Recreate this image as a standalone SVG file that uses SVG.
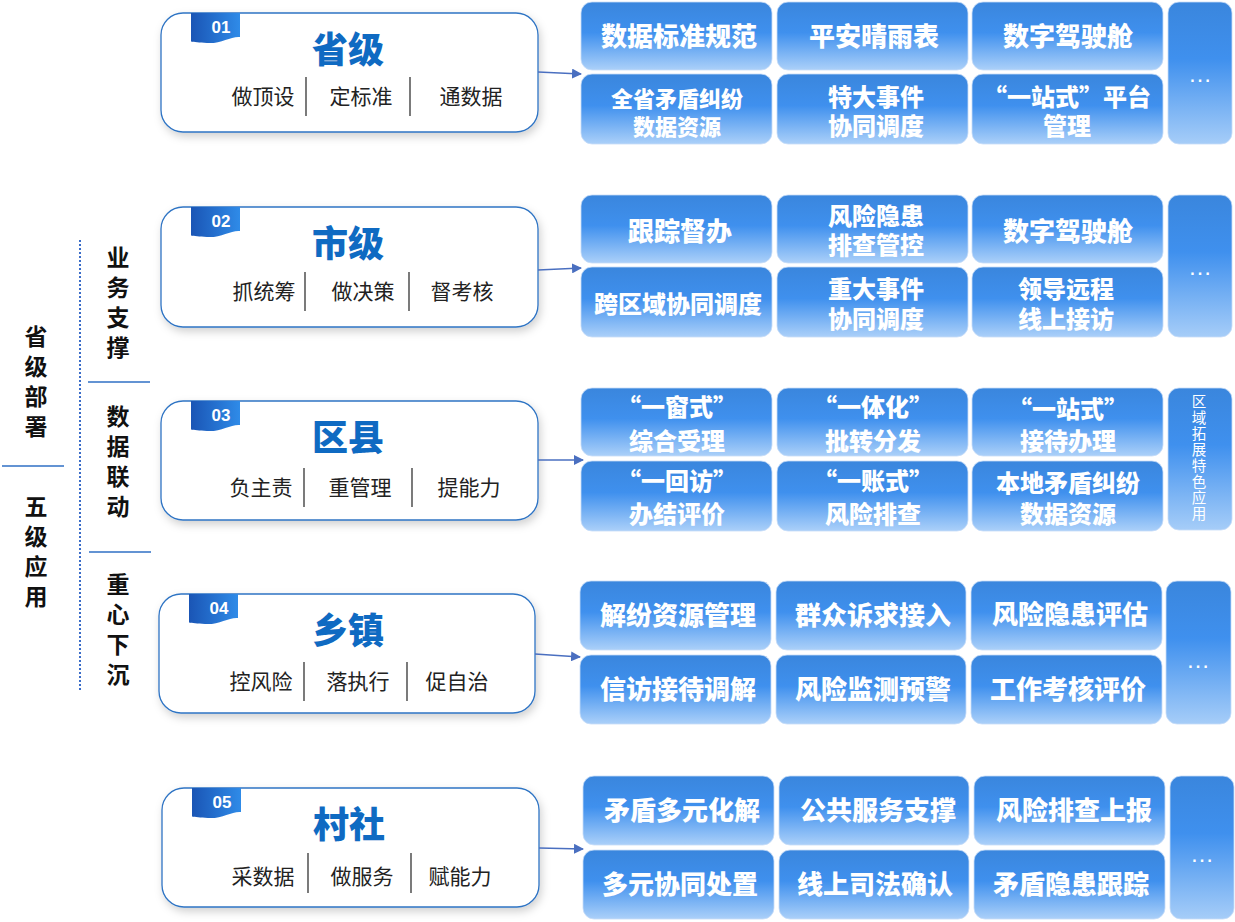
<svg xmlns="http://www.w3.org/2000/svg" width="1235" height="922" viewBox="0 0 1235 922">
<defs>
<style>
.box{fill:#fff;stroke:#2f74c4;stroke-width:1.3;filter:url(#sh)}
.ttl{font-family:"Noto Sans CJK SC","Liberation Sans",sans-serif;font-weight:900;font-size:36px;fill:#0f6ac2;text-anchor:middle}
.sub{font-family:"Noto Sans CJK SC","Liberation Sans",sans-serif;font-size:21px;fill:#222;text-anchor:middle}
.sep{stroke:#333;stroke-width:1.3}
.num{font-family:"Liberation Sans",Arial,sans-serif;font-weight:700;font-size:17px;fill:#fff;text-anchor:middle}
.tile{fill:url(#tg);stroke:#c6dcf7;stroke-width:0.8}
.more{fill:url(#mg);stroke:#c6dcf7;stroke-width:0.8}
.tt{font-family:"Noto Sans CJK SC","Liberation Sans",sans-serif;font-weight:900;font-size:26px;fill:#fff;text-anchor:middle}
.t2{font-family:"Noto Sans CJK SC","Liberation Sans",sans-serif;font-weight:900;font-size:24px;fill:#fff;text-anchor:middle}
.dots{font-family:"Liberation Sans",sans-serif;font-size:24px;fill:#fff;text-anchor:middle}
.vt{font-family:"Noto Sans CJK SC","Liberation Sans",sans-serif;font-size:14.5px;fill:#fff;writing-mode:vertical-rl;letter-spacing:1.5px}
.side{font-family:"Noto Sans CJK SC","Liberation Sans",sans-serif;font-weight:700;font-size:23px;fill:#111;writing-mode:vertical-rl;letter-spacing:7px}
.hl{stroke:#2f6fc4;stroke-width:1.3}
.conn{stroke:#4a6fc0;stroke-width:1.3;fill:none;marker-end:url(#ah)}
</style>
<linearGradient id="tg" x1="0" y1="0" x2="0" y2="1">
<stop offset="0" stop-color="#3a86dd"/>
<stop offset="0.45" stop-color="#3f90ee"/>
<stop offset="1" stop-color="#abd0f9"/>
</linearGradient>
<linearGradient id="mg" x1="0" y1="0" x2="0" y2="1">
<stop offset="0" stop-color="#3a86dd"/>
<stop offset="0.4" stop-color="#3f90ee"/>
<stop offset="1" stop-color="#a6cdf8"/>
</linearGradient>
<linearGradient id="tagg" x1="0" y1="0" x2="1" y2="0">
<stop offset="0" stop-color="#1a55b5"/>
<stop offset="1" stop-color="#2f8be8"/>
</linearGradient>
<filter id="sh" x="-10%" y="-10%" width="125%" height="135%">
<feDropShadow dx="2" dy="4" stdDeviation="4" flood-color="#000" flood-opacity="0.18"/>
</filter>
<path id="tag" d="M0,0 H49 V24 C40,23 30,31 16,30 C8,29.5 3,29 0,28.5 Z" fill="url(#tagg)"/>
<marker id="ah" viewBox="0 0 10 10" refX="9" refY="5" markerWidth="10" markerHeight="10" markerUnits="userSpaceOnUse" orient="auto">
<path d="M0,0 L10,5 L0,10 Z" fill="#4a6fc0"/>
</marker>
</defs>

<g id="side">
<text class="side" x="36" y="325">省级部署</text>
<line class="hl" x1="2" y1="466" x2="64" y2="466"/>
<text class="side" x="36" y="495">五级应用</text>
<line x1="80" y1="240" x2="80" y2="692" stroke="#3a6cc8" stroke-width="2" stroke-dasharray="2,2"/>
<text class="side" x="118" y="246">业务支撑</text>
<line class="hl" x1="88" y1="382" x2="150" y2="382"/>
<text class="side" x="118" y="405">数据联动</text>
<line class="hl" x1="89" y1="552" x2="151" y2="552"/>
<text class="side" x="118" y="573">重心下沉</text>
</g>

<g id="node-sheng">
<rect class="box" x="161" y="13" width="377" height="119" rx="22"/>
<use href="#tag" x="191" y="13"/>
<text class="num" x="221" y="33">01</text>
<text class="ttl" x="348" y="63">省级</text>
<text class="sub" x="263" y="104">做顶设</text>
<text class="sub" x="361" y="104">定标准</text>
<text class="sub" x="471" y="104">通数据</text>
<line class="sep" x1="306" y1="77" x2="306" y2="116"/>
<line class="sep" x1="410" y1="77" x2="410" y2="116"/>
</g>

<g id="node-shi">
<rect class="box" x="161" y="207" width="377" height="120" rx="22"/>
<use href="#tag" x="191" y="207"/>
<text class="num" x="221" y="227">02</text>
<text class="ttl" x="348" y="257">市级</text>
<text class="sub" x="264" y="299">抓统筹</text>
<text class="sub" x="363" y="299">做决策</text>
<text class="sub" x="462" y="299">督考核</text>
<line class="sep" x1="305" y1="272" x2="305" y2="311"/>
<line class="sep" x1="409" y1="272" x2="409" y2="311"/>
</g>

<g id="node-qu">
<rect class="box" x="161" y="401" width="377" height="119" rx="22"/>
<use href="#tag" x="191" y="401"/>
<text class="num" x="221" y="421">03</text>
<text class="ttl" x="348" y="451">区县</text>
<text class="sub" x="261" y="495">负主责</text>
<text class="sub" x="360" y="495">重管理</text>
<text class="sub" x="469" y="495">提能力</text>
<line class="sep" x1="304" y1="468" x2="304" y2="507"/>
<line class="sep" x1="412" y1="468" x2="412" y2="507"/>
</g>

<g id="node-xiang">
<rect class="box" x="159" y="594" width="376" height="119" rx="22"/>
<use href="#tag" x="189" y="594"/>
<text class="num" x="219" y="614">04</text>
<text class="ttl" x="348" y="644">乡镇</text>
<text class="sub" x="261" y="689">控风险</text>
<text class="sub" x="358" y="689">落执行</text>
<text class="sub" x="457" y="689">促自治</text>
<line class="sep" x1="304" y1="662" x2="304" y2="701"/>
<line class="sep" x1="407" y1="662" x2="407" y2="701"/>
</g>

<g id="node-cun">
<rect class="box" x="162" y="788" width="377" height="119" rx="22"/>
<use href="#tag" x="192" y="788"/>
<text class="num" x="222" y="808">05</text>
<text class="ttl" x="349" y="838">村社</text>
<text class="sub" x="263" y="884">采数据</text>
<text class="sub" x="362" y="884">做服务</text>
<text class="sub" x="460" y="884">赋能力</text>
<line class="sep" x1="308" y1="853" x2="308" y2="893"/>
<line class="sep" x1="411" y1="853" x2="411" y2="893"/>
</g>

<g id="connectors">
<path class="conn" d="M538,72 L581,74"/>
<path class="conn" d="M538,270 L581,268"/>
<path class="conn" d="M538,460 L583,460"/>
<path class="conn" d="M535,654 L580,657"/>
<path class="conn" d="M539,848 L583,849"/>
</g>

<g id="tiles-sheng">
<rect class="tile" x="581" y="2" width="191" height="68" rx="11"/>
<rect class="tile" x="777" y="2" width="191" height="68" rx="11"/>
<rect class="tile" x="972" y="2" width="191" height="68" rx="11"/>
<rect class="tile" x="581" y="74" width="191" height="70" rx="11"/>
<rect class="tile" x="777" y="74" width="191" height="70" rx="11"/>
<rect class="tile" x="972" y="74" width="191" height="70" rx="11"/>
<rect class="more" x="1168" y="2" width="64" height="142" rx="11"/>
<text class="tt" x="679" y="46">数据标准规范</text>
<text class="tt" x="874" y="46">平安晴雨表</text>
<text class="tt" x="1068" y="46">数字驾驶舱</text>
<text class="t2" style="font-size:22px"><tspan x="677" y="107">全省矛盾纠纷</tspan><tspan x="677" y="135">数据资源</tspan></text>
<text class="t2"><tspan x="876" y="106">特大事件</tspan><tspan x="876" y="135">协同调度</tspan></text>
<text class="t2"><tspan x="1067" y="106">“一站式”平台</tspan><tspan x="1067" y="135">管理</tspan></text>
<text class="dots" x="1200" y="82">…</text>
</g>

<g id="tiles-shi">
<rect class="tile" x="581" y="195" width="191" height="68" rx="11"/>
<rect class="tile" x="777" y="195" width="191" height="68" rx="11"/>
<rect class="tile" x="972" y="195" width="191" height="68" rx="11"/>
<rect class="tile" x="581" y="267" width="191" height="70" rx="11"/>
<rect class="tile" x="777" y="267" width="191" height="70" rx="11"/>
<rect class="tile" x="972" y="267" width="191" height="70" rx="11"/>
<rect class="more" x="1168" y="195" width="64" height="142" rx="11"/>
<text class="tt" x="680" y="241">跟踪督办</text>
<text class="t2"><tspan x="876" y="225">风险隐患</tspan><tspan x="876" y="254">排查管控</tspan></text>
<text class="tt" x="1068" y="241">数字驾驶舱</text>
<text class="t2" x="678" y="313">跨区域协同调度</text>
<text class="t2"><tspan x="876" y="298">重大事件</tspan><tspan x="876" y="328">协同调度</tspan></text>
<text class="t2"><tspan x="1066" y="298">领导远程</tspan><tspan x="1066" y="328">线上接访</tspan></text>
<text class="dots" x="1200" y="275">…</text>
</g>

<g id="tiles-qu">
<rect class="tile" x="581" y="388" width="191" height="68" rx="11"/>
<rect class="tile" x="777" y="388" width="191" height="68" rx="11"/>
<rect class="tile" x="972" y="388" width="191" height="68" rx="11"/>
<rect class="tile" x="581" y="461" width="191" height="70" rx="11"/>
<rect class="tile" x="777" y="461" width="191" height="70" rx="11"/>
<rect class="tile" x="972" y="461" width="191" height="70" rx="11"/>
<rect class="more" x="1168" y="388" width="64" height="142" rx="11"/>
<text class="t2"><tspan x="677" y="416">“一窗式”</tspan><tspan x="677" y="450">综合受理</tspan></text>
<text class="t2"><tspan x="873" y="416">“一体化”</tspan><tspan x="873" y="450">批转分发</tspan></text>
<text class="t2"><tspan x="1068" y="418">“一站式”</tspan><tspan x="1068" y="450">接待办理</tspan></text>
<text class="t2"><tspan x="677" y="490">“一回访”</tspan><tspan x="677" y="523">办结评价</tspan></text>
<text class="t2"><tspan x="873" y="490">“一账式”</tspan><tspan x="873" y="523">风险排查</tspan></text>
<text class="t2"><tspan x="1068" y="492">本地矛盾纠纷</tspan><tspan x="1068" y="523">数据资源</tspan></text>
<text class="vt" x="1199" y="394">区域拓展特色应用</text>
</g>

<g id="tiles-xiang">
<rect class="tile" x="580" y="581" width="191" height="69" rx="11"/>
<rect class="tile" x="776" y="581" width="190" height="69" rx="11"/>
<rect class="tile" x="971" y="581" width="191" height="69" rx="11"/>
<rect class="tile" x="580" y="655" width="191" height="69" rx="11"/>
<rect class="tile" x="776" y="655" width="190" height="69" rx="11"/>
<rect class="tile" x="971" y="655" width="191" height="69" rx="11"/>
<rect class="more" x="1166" y="581" width="65" height="143" rx="11"/>
<text class="tt" x="678" y="625">解纷资源管理</text>
<text class="tt" x="873" y="625">群众诉求接入</text>
<text class="tt" x="1070" y="624">风险隐患评估</text>
<text class="tt" x="678" y="699">信访接待调解</text>
<text class="tt" x="873" y="699">风险监测预警</text>
<text class="tt" x="1068" y="699">工作考核评价</text>
<text class="dots" x="1198" y="668">…</text>
</g>

<g id="tiles-cun">
<rect class="tile" x="583" y="776" width="191" height="69" rx="11"/>
<rect class="tile" x="779" y="776" width="190" height="69" rx="11"/>
<rect class="tile" x="974" y="776" width="191" height="69" rx="11"/>
<rect class="tile" x="583" y="850" width="191" height="69" rx="11"/>
<rect class="tile" x="779" y="850" width="190" height="69" rx="11"/>
<rect class="tile" x="974" y="850" width="191" height="69" rx="11"/>
<rect class="more" x="1170" y="776" width="64" height="143" rx="11"/>
<text class="tt" x="682" y="820">矛盾多元化解</text>
<text class="tt" x="878" y="820">公共服务支撑</text>
<text class="tt" x="1074" y="820">风险排查上报</text>
<text class="tt" x="680" y="894">多元协同处置</text>
<text class="tt" x="875" y="894">线上司法确认</text>
<text class="tt" x="1071" y="894">矛盾隐患跟踪</text>
<text class="dots" x="1202" y="862">…</text>
</g>
</svg>
